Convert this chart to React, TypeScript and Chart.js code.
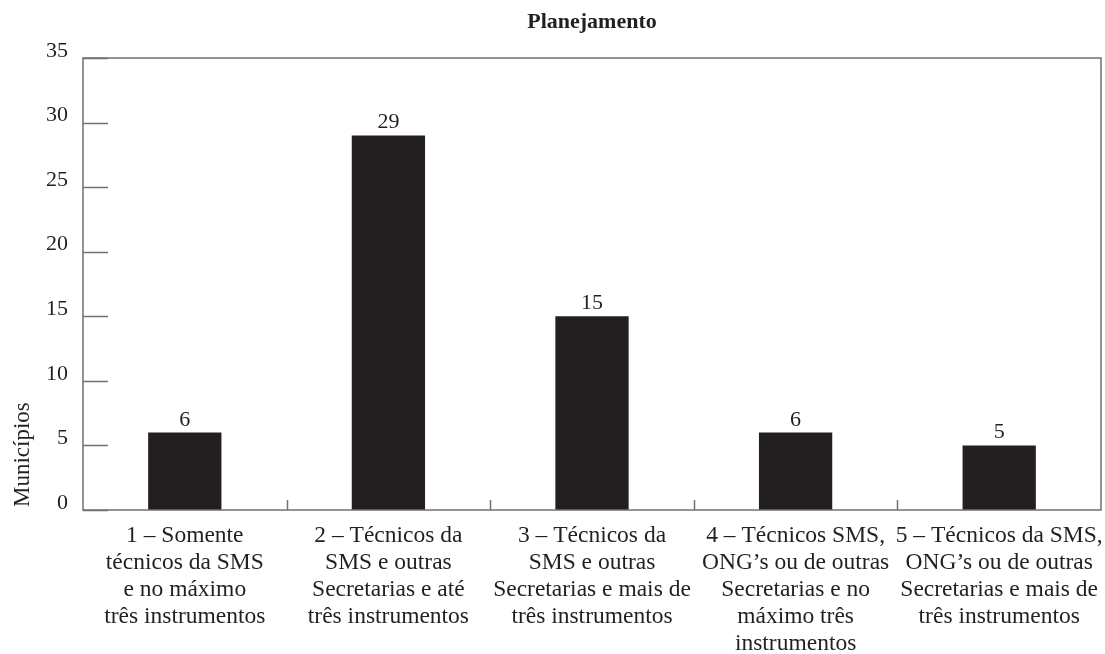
import React, { useEffect, useRef } from "react";
import { Chart, registerables } from "chart.js";

Chart.register(...registerables);

const chartTitle = "Planejamento";
const yAxisTitle = "Municípios";
const categories: string[][] = [
  ["1 – Somente", "técnicos da SMS", "e no máximo", "três instrumentos"],
  ["2 – Técnicos da", "SMS e outras", "Secretarias e até", "três instrumentos"],
  ["3 – Técnicos da", "SMS e outras", "Secretarias e mais de", "três instrumentos"],
  ["4 – Técnicos SMS,", "ONG’s ou de outras", "Secretarias e no", "máximo três", "instrumentos"],
  ["5 – Técnicos da SMS,", "ONG’s ou de outras", "Secretarias e mais de", "três instrumentos"],
];
const values: number[] = [6, 29, 15, 6, 5];
const yMin = 0;
const yMax = 35;
const yStep = 5;

const FONT = "'Liberation Serif', 'Times New Roman', serif";
const LINE = "#707070";
const TEXT = "#231f20";

const decorPlugin = {
  id: "decor",
  afterDatasetsDraw(chart: any) {
    const { ctx, chartArea, scales } = chart;
    const x = scales.x;
    const y = scales.y;
    ctx.save();
    // frame
    ctx.strokeStyle = LINE;
    ctx.lineWidth = 1.5;
    ctx.strokeRect(chartArea.left, chartArea.top, chartArea.right - chartArea.left, chartArea.bottom - chartArea.top);
    // inward y ticks
    ctx.beginPath();
    for (let v = yMin; v <= yMax; v += yStep) {
      const py = Math.round(y.getPixelForValue(v)) + 0.5;
      ctx.moveTo(chartArea.left, py);
      ctx.lineTo(chartArea.left + 25, py);
    }
    // inward x ticks at category boundaries
    const n = categories.length;
    for (let i = 1; i < n; i++) {
      const px = Math.round((x.getPixelForValue(i - 1) + x.getPixelForValue(i)) / 2) + 0.5;
      ctx.moveTo(px, chartArea.bottom);
      ctx.lineTo(px, chartArea.bottom - 10);
    }
    ctx.stroke();
    // value labels
    ctx.fillStyle = TEXT;
    ctx.font = `22px ${FONT}`;
    ctx.textAlign = "center";
    ctx.textBaseline = "alphabetic";
    const meta = chart.getDatasetMeta(0);
    meta.data.forEach((bar: any, i: number) => {
      ctx.fillText(String(values[i]), bar.x, bar.y - 7);
    });
    // title
    ctx.font = `bold 22px ${FONT}`;
    ctx.fillText(chartTitle, (chartArea.left + chartArea.right) / 2, 28);
    // y axis title
    ctx.font = `23px ${FONT}`;
    ctx.translate(23, chartArea.bottom - 3);
    ctx.rotate(-Math.PI / 2);
    ctx.textAlign = "left";
    ctx.textBaseline = "middle";
    ctx.fillText(yAxisTitle, 0, 0);
    ctx.restore();
  },
};

export default function App() {
  const ref = useRef<HTMLCanvasElement>(null);
  useEffect(() => {
    document.body.style.margin = "0";
    const chart = new Chart(ref.current as HTMLCanvasElement, {
      type: "bar",
      data: {
        labels: categories,
        datasets: [
          {
            data: values,
            backgroundColor: TEXT,
            barPercentage: 0.36,
            categoryPercentage: 1,
          },
        ],
      },
      options: {
        animation: false,
        responsive: false,
        maintainAspectRatio: false,
        layout: { padding: { top: 58, right: 4, left: 0, bottom: 0 } },
        plugins: { legend: { display: false }, title: { display: false }, tooltip: { enabled: false } },
        scales: {
          x: {
            grid: { display: false, drawTicks: false },
            border: { display: false },
            ticks: {
              color: TEXT,
              font: { family: FONT, size: 23.5, lineHeight: 1.149 },
              padding: 12,
              maxRotation: 0,
              autoSkip: false,
            },
            afterFit: (s: any) => {
              s.height = 144;
              s.paddingLeft = 0;
              s.paddingRight = 0;
            },
          },
          y: {
            min: yMin,
            max: yMax,
            grid: { display: false, drawTicks: false },
            border: { display: false },
            ticks: {
              stepSize: yStep,
              color: TEXT,
              font: { family: FONT, size: 22 },
              padding: 15,
              labelOffset: -7,
            },
            afterFit: (s: any) => {
              s.width = 83;
              s.paddingTop = 0;
              s.paddingBottom = 0;
            },
          },
        },
      },
      plugins: [decorPlugin],
    });
    return () => chart.destroy();
  }, []);
  return (
    <div style={{ position: "absolute", left: 0, top: 0, width: 1105, height: 654, background: "#fff" }}>
      <canvas ref={ref} width={1105} height={654} style={{ width: 1105, height: 654 }} />
    </div>
  );
}
